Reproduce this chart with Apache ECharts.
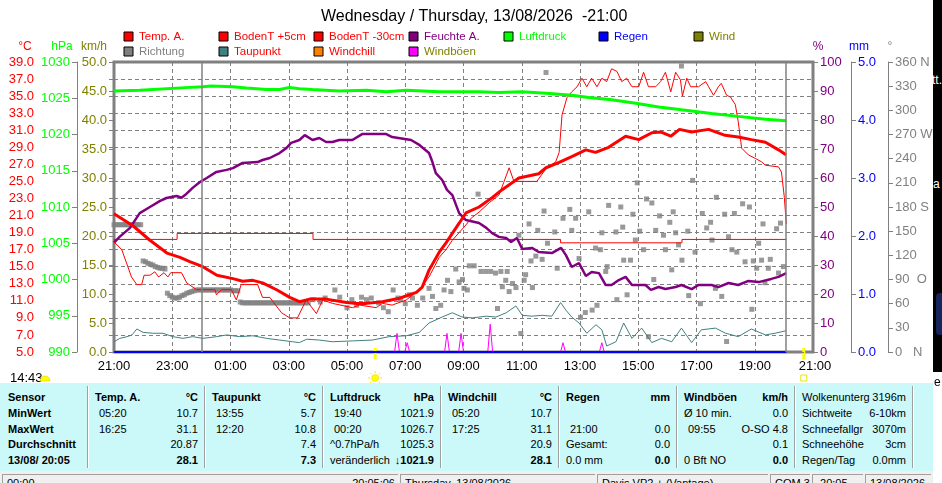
<!DOCTYPE html>
<html>
<head>
<meta charset="utf-8">
<script src="https://cdn.jsdelivr.net/npm/echarts@6.0.0/dist/echarts.min.js"></script>
<style>
  html, body { margin: 0; padding: 0; background: #fff; }
  #wrap { position: relative; width: 942px; height: 483px; overflow: hidden; background: #fff; font-family: 'Liberation Sans', Arial, sans-serif; }
  #chart { position: absolute; left: 0; top: 0; width: 942px; height: 483px; }
  #panel { position: absolute; left: 0; top: 383px; width: 933px; height: 88px; background: #cbf8f8; }
  #panel span { position: absolute; font-size: 11px; line-height: 14px; white-space: pre; color: #000; }
  .sep { position: absolute; top: 3px; width: 1px; height: 82px; background: #a0a0a0; border-right: 1px solid #fff; }
  #status { position: absolute; left: 0; top: 471px; width: 933px; height: 12px; background: #f0f0f0; }
  #status div { position: absolute; top: 3px; height: 20px; border-top: 1px solid #a0a0a0; border-left: 1px solid #a0a0a0; overflow: hidden; font-size: 11px; line-height: 13px; white-space: pre; }
  #strip { position: absolute; left: 933px; top: 0; width: 9px; height: 372px; background: #000; overflow: hidden; color: #fff; font-size: 12px; }
</style>
</head>
<body>
<div id="wrap">
  <div id="chart"></div>
  <div id="panel"></div>
  <div id="status"></div>
  <div id="strip">
    <div style="position:absolute;left:-1px;top:73px">tt.</div>
    <div style="position:absolute;left:0;top:177px">a</div>
    <div style="position:absolute;left:3px;top:293px;width:8px;height:42px;background:#16245c;border-radius:4px"></div>
  </div>
  <div style="position:absolute;left:934px;top:375px;font-size:12px">e</div>
</div>
<script>
const font = 'Liberation Sans';
const grey = '#808080';

const titleText = 'Wednesday / Thursday, 13/08/2026  -21:00';
const nowTime = '20:05';
const sunrise = '05:58';
const sunset = '20:41';
const dayLength = '14:43';

// Temp. A. (°C)
const tempA = [
  ['21:00', 21.2], ['21:39', 19.8], ['22:14', 18.1], ['22:49', 16.6], ['23:16', 16.1], ['23:36', 15.6],
  ['00:03', 15.0], ['00:32', 14.0], ['01:05', 13.6], ['01:25', 13.3], ['01:46', 13.4], ['02:06', 13.1],
  ['02:35', 12.3], ['03:02', 11.4], ['03:22', 10.9], ['03:43', 11.2], ['04:17', 11.2], ['04:59', 10.8],
  ['05:20', 10.7], ['05:40', 10.7], ['06:13', 10.9], ['06:48', 11.3], ['07:23', 12.0], ['07:35', 12.6],
  ['07:49', 14.6], ['08:10', 16.7], ['08:24', 17.8], ['08:51', 20.1], ['09:05', 21.3], ['09:32', 22.0],
  ['09:59', 23.1], ['10:19', 24.0], ['10:54', 25.4], ['11:35', 25.9], ['11:50', 26.6], ['12:16', 27.2],
  ['12:43', 27.9], ['13:12', 28.7], ['13:32', 28.4], ['13:59', 29.0], ['14:34', 30.3], ['15:01', 29.9],
  ['15:28', 30.7], ['15:46', 30.8], ['16:07', 30.3], ['16:25', 31.1], ['16:50', 30.8], ['17:25', 31.1],
  ['17:59', 30.4], ['18:26', 30.2], ['18:53', 29.9], ['19:22', 29.6], ['19:49', 28.7], ['20:05', 28.1]
];

// BodenT +5cm (°C)
const soil5 = [
  ['21:00', 17.9], ['21:16', 17.0], ['21:36', 13.8], ['21:47', 12.9], ['21:57', 12.9], ['22:02', 14.0],
  ['22:14', 14.0], ['22:24', 14.4], ['22:32', 13.8], ['22:43', 14.3], ['22:51', 13.8], ['22:57', 14.3],
  ['23:19', 14.3], ['23:30', 13.1], ['23:50', 12.3], ['00:07', 12.3], ['00:28', 12.3], ['00:31', 11.7],
  ['00:41', 12.3], ['01:02', 12.3], ['01:12', 11.1], ['01:22', 12.9], ['01:56', 12.9], ['02:06', 11.4],
  ['02:21', 11.4], ['02:45', 9.6], ['03:02', 9.0], ['03:18', 9.0], ['03:36', 11.1], ['03:57', 9.5],
  ['04:10', 11.1], ['04:30', 10.7], ['05:11', 10.2], ['05:26', 10.5], ['06:00', 10.2], ['06:13', 10.7],
  ['06:33', 10.5], ['07:02', 11.1], ['07:29', 12.3], ['07:49', 13.8], ['08:10', 16.1], ['08:24', 17.0],
  ['08:37', 18.1], ['08:51', 19.0], ['09:05', 19.9], ['09:16', 20.7], ['09:32', 21.4], ['09:53', 22.5],
  ['10:13', 23.4], ['10:23', 24.9], ['10:34', 26.6], ['10:44', 25.0], ['11:31', 25.0], ['11:50', 26.5],
  ['12:10', 27.3], ['12:17', 28.4], ['12:23', 32.8], ['12:33', 34.8], ['12:43', 35.5], ['12:54', 36.1],
  ['13:04', 37.1], ['13:14', 36.1], ['13:24', 37.1], ['13:35', 36.1], ['13:45', 37.1], ['13:55', 36.7],
  ['14:05', 38.2], ['14:16', 37.9], ['14:26', 36.7], ['14:36', 37.1], ['14:47', 36.1], ['15:01', 36.1],
  ['15:11', 37.8], ['15:21', 36.1], ['15:36', 36.1], ['15:46', 36.7], ['15:56', 37.8], ['16:07', 35.5],
  ['16:17', 37.8], ['16:27', 36.9], ['16:31', 35.0], ['16:40', 37.1], ['16:48', 36.1], ['17:04', 36.1],
  ['17:19', 36.7], ['17:25', 36.1], ['17:35', 35.1], ['17:45', 36.1], ['17:51', 36.5], ['18:02', 35.1],
  ['18:10', 34.9], ['18:20', 34.0], ['18:26', 32.0], ['18:33', 28.9], ['18:47', 28.1], ['19:01', 27.7],
  ['19:14', 27.3], ['19:22', 26.9], ['19:49', 26.7], ['19:55', 26.1], ['20:01', 23.1], ['20:05', 20.0]
];

// BodenT -30cm (°C), stepped
const soil30 = [['21:00', 18.2], ['23:10', 18.9], ['03:50', 18.2], ['12:20', 17.8], ['16:30', 18.2], ['20:05', 18.2]];

// Feuchte A. (%)
const humidity = [
  ['21:00', 37.7], ['21:12', 39.8], ['21:33', 42.8], ['21:53', 47.9], ['22:14', 50.0], ['22:35', 52.1],
  ['22:48', 53.1], ['23:09', 53.8], ['23:19', 53.2], ['23:29', 54.5], ['23:42', 56.6], ['23:57', 58.6],
  ['00:11', 60.0], ['00:31', 62.1], ['00:52', 62.8], ['01:05', 63.4], ['01:25', 65.2], ['01:56', 65.5],
  ['02:06', 66.2], ['02:21', 66.9], ['02:41', 68.6], ['02:55', 70.3], ['03:05', 72.1], ['03:22', 73.1],
  ['03:33', 74.8], ['03:49', 73.1], ['04:03', 73.8], ['04:17', 72.4], ['04:30', 72.4], ['04:44', 73.1],
  ['05:11', 73.1], ['05:32', 75.2], ['06:20', 75.2], ['06:33', 74.1], ['07:12', 73.1], ['07:29', 71.4],
  ['07:49', 68.6], ['07:56', 65.5], ['08:03', 61.7], ['08:16', 59.3], ['08:26', 55.9], ['08:37', 54.1],
  ['08:51', 47.9], ['09:05', 45.5], ['09:32', 44.5], ['09:47', 42.8], ['09:59', 41.0], ['10:13', 39.7],
  ['10:28', 39.3], ['10:38', 37.9], ['10:50', 39.3], ['11:01', 35.5], ['11:21', 35.9], ['11:35', 34.5],
  ['12:02', 34.1], ['12:21', 35.9], ['12:31', 33.4], ['12:43', 29.3], ['12:58', 30.7], ['13:12', 26.2],
  ['13:24', 27.6], ['13:39', 27.2], ['13:53', 23.1], ['14:05', 23.1], ['14:20', 24.8], ['14:34', 25.9],
  ['14:47', 23.1], ['15:15', 23.1], ['15:26', 21.4], ['15:42', 22.4], ['15:56', 21.7], ['16:17', 22.4],
  ['16:29', 23.1], ['16:50', 21.7], ['17:04', 23.1], ['17:31', 23.1], ['17:45', 22.4], ['18:06', 23.8],
  ['18:26', 23.1], ['18:47', 24.5], ['19:08', 24.1], ['19:34', 25.2], ['19:49', 25.9], ['20:05', 27.2]
];

// Luftdruck (hPa)
const pressure = [
  ['21:00', 1026.0], ['21:53', 1026.1], ['23:36', 1026.5], ['00:03', 1026.6], ['00:20', 1026.7], ['01:05', 1026.6],
  ['01:33', 1026.4], ['02:14', 1026.2], ['02:41', 1026.2], ['03:02', 1026.5], ['03:22', 1026.3], ['03:49', 1026.2],
  ['04:44', 1026.0], ['05:40', 1026.1], ['06:21', 1025.9], ['07:02', 1026.1], ['08:10', 1025.9], ['09:32', 1025.9],
  ['10:13', 1025.8], ['11:00', 1025.9], ['11:50', 1025.7], ['12:43', 1025.4], ['13:18', 1025.1], ['14:05', 1024.8],
  ['14:55', 1024.3], ['15:42', 1023.8], ['16:29', 1023.4], ['17:31', 1022.9], ['18:26', 1022.5], ['19:22', 1022.1],
  ['20:05', 1021.9]
];

// Taupunkt (°C)
const dewPoint = [
  ['21:00', 6.2], ['21:12', 6.6], ['21:27', 6.8], ['21:37', 7.0], ['21:47', 7.7], ['22:00', 7.3],
  ['22:20', 7.2], ['22:41', 7.2], ['23:01', 6.8], ['23:22', 6.6], ['23:42', 6.8], ['00:03', 6.6],
  ['00:32', 6.8], ['00:52', 7.0], ['01:19', 6.8], ['01:46', 6.9], ['02:14', 6.6], ['02:41', 6.4],
  ['03:08', 6.2], ['03:22', 6.1], ['03:37', 6.5], ['04:03', 6.4], ['04:30', 6.2], ['05:11', 6.3],
  ['05:52', 6.4], ['06:27', 6.8], ['07:02', 6.9], ['07:29', 7.3], ['07:49', 8.4], ['08:16', 9.1],
  ['08:37', 9.6], ['08:57', 9.1], ['09:18', 9.0], ['09:47', 9.2], ['10:07', 9.1], ['10:28', 9.6],
  ['10:48', 10.4], ['11:01', 9.3], ['11:21', 9.2], ['11:42', 9.3], ['12:02', 9.2], ['12:20', 10.8],
  ['12:31', 9.9], ['12:43', 9.1], ['12:58', 8.4], ['13:14', 7.2], ['13:33', 8.2], ['13:45', 7.6],
  ['13:55', 5.7], ['14:14', 6.2], ['14:30', 8.4], ['14:47', 6.6], ['15:07', 7.8], ['15:28', 6.1],
  ['15:48', 6.6], ['16:09', 6.2], ['16:29', 7.8], ['16:50', 6.1], ['17:10', 7.6], ['17:39', 7.8],
  ['18:00', 7.2], ['18:26', 6.8], ['18:53', 7.7], ['19:22', 7.0], ['19:42', 7.2], ['20:05', 7.5]
];

// Windböen (km/h)
const gusts = [
  ['21:00', 0], ['06:38', 0], ['06:43', 3.2], ['06:48', 0], ['06:59', 0], ['07:04', 1.6], ['07:09', 0],
  ['08:21', 0], ['08:26', 3.2], ['08:31', 0], ['08:50', 0], ['08:55', 3.2], ['09:00', 0],
  ['09:50', 0], ['09:55', 4.8], ['10:00', 0], ['12:20', 0], ['12:25', 1.6], ['12:30', 0],
  ['13:40', 0], ['13:45', 1.6], ['13:50', 0], ['20:05', 0]
];

// Regen (mm)
const rain = [['21:00', 0], ['20:05', 0]];

// Richtung (°): night values every 5 min from 21:00, then single readings
const dirNightStart = '21:00';
const dirNight = [
  158, 158, 158, 158, 158, 158, 158, 158, 158, 158, 158, 158,
  113, 112, 110, 109, 108, 106, 105, 104, 104, 103,
  73, 70, 68, 67, 67, 68, 70, 71, 73, 74, 75, 76,
  77, 77, 77, 77, 77, 77, 77, 77, 77, 77, 77, 77, 77, 77, 77, 76, 76, 76,
  62, 61, 61, 61, 61, 61, 61, 61, 61, 61, 61, 61, 61, 61, 61, 61, 61, 61, 61, 61, 61, 61, 61, 61, 61, 61, 61, 61, 61
];
const dirDay = [
  ['03:50', 65], ['04:05', 62], ['04:15', 67], ['04:35', 77], ['04:45', 68], ['05:00', 55], ['05:10', 65],
  ['05:20', 58], ['05:30', 68], ['05:40', 65], ['05:50', 67], ['06:05', 61], ['06:15', 55], ['06:25', 50],
  ['06:35', 77], ['06:45', 67], ['06:50', 65], ['07:00', 60], ['07:08', 71], ['07:15', 67], ['07:25', 58],
  ['07:36', 67], ['07:49', 79], ['07:56', 69], ['08:03', 54], ['08:13', 58], ['08:20', 77], ['08:27', 89],
  ['08:34', 75], ['08:44', 103], ['08:51', 87], ['08:58', 90], ['09:01', 79], ['09:08', 77], ['09:12', 107],
  ['09:22', 107], ['09:30', 196], ['09:36', 100], ['09:46', 100], ['09:56', 100], ['10:06', 98], ['10:10', 54],
  ['10:17', 100], ['10:20', 81], ['10:27', 89], ['10:30', 100], ['10:34', 75], ['10:41', 85], ['10:48', 80],
  ['10:54', 145], ['10:58', 23], ['11:05', 89], ['11:08', 96], ['11:15', 159], ['11:19', 113], ['11:22', 80],
  ['11:29', 119], ['11:33', 151], ['11:42', 115], ['11:46', 175], ['11:50', 347], ['11:53', 135], ['12:08', 149],
  ['12:13', 104], ['12:25', 166], ['12:39', 177], ['12:43', 151], ['12:51', 166], ['12:58', 116], ['13:01', 43],
  ['13:11', 49], ['13:18', 174], ['13:25', 52], ['13:32', 129], ['13:35', 58], ['13:42', 127], ['13:45', 148],
  ['13:53', 100], ['13:56', 106], ['13:59', 182], ['14:14', 149], ['14:16', 65], ['14:24', 180], ['14:28', 155],
  ['14:30', 114], ['14:37', 71], ['14:44', 114], ['14:49', 171], ['14:54', 139], ['14:58', 210], ['15:03', 150],
  ['15:11', 127], ['15:17', 190], ['15:21', 19], ['15:28', 185], ['15:32', 90], ['15:36', 151], ['15:44', 169],
  ['15:52', 145], ['15:56', 127], ['16:05', 161], ['16:09', 102], ['16:12', 174], ['16:17', 148], ['16:23', 133],
  ['16:29', 355], ['16:30', 114], ['16:42', 150], ['16:44', 70], ['16:52', 213], ['16:57', 124], ['17:08', 60],
  ['17:12', 172], ['17:21', 154], ['17:29', 161], ['17:32', 139], ['17:39', 79], ['17:41', 192], ['17:52', 69],
  ['17:58', 171], ['18:02', 13], ['18:06', 143], ['18:13', 127], ['18:18', 172], ['18:23', 124], ['18:35', 184],
  ['18:40', 112], ['18:49', 180], ['18:54', 53], ['18:57', 113], ['19:04', 104], ['19:08', 135], ['19:14', 114],
  ['19:17', 159], ['19:21', 86], ['19:28', 104], ['19:32', 115], ['19:45', 153], ['19:49', 98], ['19:53', 160],
  ['19:59', 106]
];

const compass = { 0: '0   N', 90: '90  O', 180: '180 S', 270: '270 W', 360: '360 N' };

const legendItems = [
  ['Temp. A.', '#ff0000', '#ff0000'], ['BodenT +5cm', '#ff0000', '#ff0000'], ['BodenT -30cm', '#ff0000', '#ff0000'],
  ['Feuchte A.', '#800080', '#800080'], ['Luftdruck', '#00ff00', '#00ff00'], ['Regen', '#0000ff', '#0000ff'],
  ['Wind', '#808000', '#808000'],
  ['Richtung', '#808080', '#808080'], ['Taupunkt', '#408080', '#ff0000'], ['Windchill', '#ff8000', '#ff0000'],
  ['Windböen', '#ff00ff', '#808000']
];

const panelCols = [
  [['Sensor', ''], ['MinWert', ''], ['MaxWert', ''], ['Durchschnitt', ''], ['13/08/ 20:05', '']],
  [['Temp. A.', '°C'], ['05:20', '10.7'], ['16:25', '31.1'], ['', '20.87'], ['', '28.1']],
  [['Taupunkt', '°C'], ['13:55', '5.7'], ['12:20', '10.8'], ['', '7.4'], ['', '7.3']],
  [['Luftdruck', 'hPa'], ['19:40', '1021.9'], ['00:20', '1026.7'], ['^0.7hPa/h', '1025.3'], ['veränderlich', '\u21931021.9']],
  [['Windchill', '°C'], ['05:20', '10.7'], ['17:25', '31.1'], ['', '20.9'], ['', '28.1']],
  [['Regen', 'mm'], ['', ''], ['21:00', '0.0'], ['Gesamt:', '0.0'], ['0.0 mm', '0.0']],
  [['Windböen', 'km/h'], ['Ø 10 min.', '0.0'], ['09:55', 'O-SO 4.8'], ['', '0.1'], ['0 Bft NO', '0.0']],
  [['Wolkenunterg', '3196m'], ['Sichtweite', '6-10km'], ['Schneefallgr', '3070m'], ['Schneehöhe', '3cm'], ['Regen/Tag', '0.0mm']]
];
const statusCells = [
  ['00:00', '20:05:06'], ['Thursday, 13/08/2026', ''], ['Davis VP2 + (Vantage)', ''],
  ['COM 3', ''], [' 20:05', ''], ['13/08/2026', '']
];

// hours after 21:00
function hrs(s) {
  const p = s.split(':');
  let v = +p[0] + p[1] / 60 - 21;
  if (v < 0) v += 24;
  return v;
}
const toXY = arr => arr.map(p => [hrs(p[0]), p[1]]);
const clock = v => {
  const h = (21 + Math.round(v)) % 24;
  return (h < 10 ? '0' : '') + h + ':00';
};

const dirData = dirNight.map((v, i) => [hrs(dirNightStart) + i * 5 / 60, v]).concat(toXY(dirDay));

const sideAxis = {
  type: 'value',
  axisLine: { show: true, lineStyle: { color: grey, width: 1 } },
  axisTick: { show: true, length: 5, lineStyle: { color: grey } },
  splitLine: { show: false }
};
const label = (color, fmt) => ({ color: color, fontSize: 13, fontFamily: font, margin: 7, formatter: fmt });
const lineSeries = {
  type: 'line',
  showSymbol: false,
  symbol: 'none',
  silent: true,
  animation: false
};

const graphics = [];
legendItems.forEach((it, i) => {
  const row = i < 7 ? 0 : 1;
  const col = i < 7 ? i : i - 7;
  const x = 124 + col * 95;
  const y = row ? 47 : 32;
  graphics.push({ type: 'rect', shape: { x: x, y: y, width: 9, height: 9 }, style: { fill: it[1], stroke: '#000', lineWidth: 1 } });
  graphics.push({ type: 'text', x: x + 15, y: y + 5, style: { text: it[0], fill: it[2], font: '11.5px ' + font, textVerticalAlign: 'middle', verticalAlign: 'middle' } });
});
[['°C', 25, '#ff0000'], ['hPa', 62, '#00ff00'], ['km/h', 94, '#808000'], ['%', 818, '#800080'], ['mm', 859, '#0000ff'], ['°', 890, grey]]
  .forEach(n => {
    graphics.push({ type: 'text', x: n[1], y: 47, style: { text: n[0], fill: n[2], font: '12px ' + font, textAlign: 'center', align: 'center', textVerticalAlign: 'middle', verticalAlign: 'middle' } });
  });
graphics.push({ type: 'text', x: 10, y: 378, style: { text: dayLength, fill: '#000', font: '13px ' + font, textVerticalAlign: 'middle', verticalAlign: 'middle' } });
graphics.push({ type: 'sector', shape: { cx: 45, cy: 381, r: 5, r0: 0, startAngle: Math.PI, endAngle: Math.PI * 2 }, style: { fill: '#ffff00', stroke: '#e0c000', lineWidth: 0.5 } });

const chart = echarts.init(document.getElementById('chart'), null, { renderer: 'canvas' });
const option = {
  animation: false,
  backgroundColor: '#fff',
  textStyle: { fontFamily: font },
  title: {
    text: titleText,
    left: 316,
    top: 4,
    textStyle: { color: '#000', fontSize: 16, fontWeight: 'normal', fontFamily: font }
  },
  grid: {
    left: 114,
    right: 129,
    top: 62,
    bottom: 131,
    show: true,
    borderColor: grey,
    borderWidth: 3,
    containLabel: false,
    outerBoundsMode: 'none'
  },
  xAxis: {
    type: 'value',
    min: 0,
    max: 24,
    interval: 2,
    axisLine: { show: false },
    axisTick: { show: false },
    axisLabel: { color: '#000', fontSize: 13, fontFamily: font, margin: 8, formatter: clock, showMaxLabel: false },
    splitLine: { show: true, lineStyle: { color: grey, type: [4, 3], width: 1 } }
  },
  yAxis: [
    { ...sideAxis, position: 'left', offset: 73, min: 5, max: 39, interval: 2,
      axisLabel: label('#ff0000', v => v.toFixed(1)),
      splitLine: { show: true, lineStyle: { color: grey, type: [4, 3], width: 1 } } },
    { ...sideAxis, position: 'left', offset: 37, min: 990, max: 1030, interval: 5,
      axisLabel: label('#00ff00', v => String(v)) },
    { ...sideAxis, position: 'left', offset: 0, min: 0, max: 50, interval: 5,
      axisLine: { show: false },
      axisLabel: label('#808000', v => v.toFixed(1)) },
    { ...sideAxis, position: 'right', offset: 0, min: 0, max: 100, interval: 10,
      axisLine: { show: false },
      axisLabel: label('#800080', v => String(v)) },
    { ...sideAxis, position: 'right', offset: 38, min: 0, max: 5, interval: 1,
      axisLabel: label('#0000ff', v => v.toFixed(1)) },
    { ...sideAxis, position: 'right', offset: 75, min: 0, max: 360, interval: 30,
      axisLabel: label(grey, v => compass[v] || String(v)) }
  ],
  graphic: graphics,
  series: [
    {
      name: 'Richtung',
      type: 'scatter',
      yAxisIndex: 5,
      symbol: 'rect',
      symbolSize: 5,
      silent: true,
      itemStyle: { color: grey },
      data: dirData,
      markLine: {
        silent: true,
        symbol: ['none', 'none'],
        label: { show: false },
        lineStyle: { color: grey, type: 'solid', width: 1.5 },
        data: [{ xAxis: hrs('00:00') }, { xAxis: hrs(nowTime) }]
      }
    },
    { name: 'BodenT -30cm', ...lineSeries, yAxisIndex: 0, step: 'end', lineStyle: { color: '#ff0000', width: 1 }, data: toXY(soil30) },
    { name: 'Taupunkt', ...lineSeries, yAxisIndex: 0, lineStyle: { color: '#408080', width: 1 }, data: toXY(dewPoint) },
    { name: 'Feuchte A.', ...lineSeries, yAxisIndex: 3, lineStyle: { color: '#800080', width: 2.5 }, data: toXY(humidity) },
    { name: 'BodenT +5cm', ...lineSeries, yAxisIndex: 0, lineStyle: { color: '#ff0000', width: 1 }, data: toXY(soil5) },
    { name: 'Temp. A.', ...lineSeries, yAxisIndex: 0, lineStyle: { color: '#ff0000', width: 3 }, data: toXY(tempA) },
    { name: 'Luftdruck', ...lineSeries, yAxisIndex: 1, lineStyle: { color: '#00ff00', width: 3 }, data: toXY(pressure) },
    { name: 'Windböen', ...lineSeries, yAxisIndex: 2, lineStyle: { color: '#ff00ff', width: 1 }, data: toXY(gusts) },
    { name: 'Regen', ...lineSeries, yAxisIndex: 4, lineStyle: { color: '#0000ff', width: 2 }, data: toXY(rain) }
  ]
};
chart.setOption(option);

// sunrise / sunset markers and the closing 21:00 label, placed through the x scale
const base = chart.convertToPixel({ yAxisIndex: 2 }, 0);
const xr = chart.convertToPixel({ xAxisIndex: 0 }, hrs(sunrise));
const xs = chart.convertToPixel({ xAxisIndex: 0 }, hrs(sunset));
const xEnd = chart.convertToPixel({ xAxisIndex: 0 }, 24);
const extra = [
  { type: 'line', shape: { x1: xr, y1: base - 4, x2: xr, y2: base + 7 }, style: { stroke: '#ffff00', lineWidth: 3 } },
  { type: 'line', shape: { x1: xs, y1: base - 4, x2: xs, y2: base + 7 }, style: { stroke: '#ffff00', lineWidth: 3 } },
  { type: 'circle', shape: { cx: xr, cy: 378, r: 3.5 }, style: { fill: '#ffff00', stroke: '#f0d000', lineWidth: 0.5 } },
  { type: 'rect', shape: { x: xs - 3, y: 375, width: 6, height: 6 }, style: { fill: 'none', stroke: '#e8e800', lineWidth: 1 } },
  { type: 'text', x: xEnd + 2, y: base + 8, z: 10, style: { text: clock(24), fill: '#000', font: '13px ' + font, textAlign: 'center', align: 'center', textVerticalAlign: 'top', verticalAlign: 'top' } }
];
for (let k = 0; k < 8; k++) {
  const a = k * Math.PI / 4;
  extra.push({ type: 'line', shape: { x1: xr + Math.cos(a) * 5, y1: 378 + Math.sin(a) * 5, x2: xr + Math.cos(a) * 7, y2: 378 + Math.sin(a) * 7 }, style: { stroke: '#ffe000', lineWidth: 1 } });
}
chart.setOption({ graphic: graphics.concat(extra) });

// data panel under the chart
const panelLeft = [0, 88, 205, 323, 441, 559, 677, 795];
const panelRight = [88, 205, 323, 441, 559, 677, 795, 913];
const rowTop = [7, 23, 39, 54, 70];
const panel = document.getElementById('panel');
let html = '';
panelCols.forEach((col, c) => {
  col.forEach((cell, r) => {
    const boldLeft = c === 0 || (r === 0 && c < 7);
    const boldRight = c < 7 && (r === 0 || r === 4);
    const indent = c === 0 ? 8 : (/^\d\d:\d\d$/.test(cell[0]) ? 11 : 7);
    if (cell[0]) html += '<span style="left:' + (panelLeft[c] + indent) + 'px;top:' + rowTop[r] + 'px;font-weight:' + (boldLeft ? 'bold' : 'normal') + '">' + cell[0] + '</span>';
    if (cell[1]) html += '<span style="right:' + (933 - panelRight[c] + 7) + 'px;top:' + rowTop[r] + 'px;font-weight:' + (boldRight ? 'bold' : 'normal') + '">' + cell[1] + '</span>';
  });
  html += '<div class="sep" style="left:' + (panelRight[c] - 1) + 'px"></div>';
});
panel.innerHTML = html;

const statusBox = [[2, 397], [400, 594], [597, 767], [770, 809], [812, 862], [865, 930]];
let sHtml = '';
statusCells.forEach((s, i) => {
  const b = statusBox[i];
  sHtml += '<div style="left:' + b[0] + 'px;width:' + (b[1] - b[0]) + 'px">' +
    '<span style="position:absolute;left:4px;top:2px">' + s[0] + '</span>' +
    (s[1] ? '<span style="position:absolute;right:3px;top:2px">' + s[1] + '</span>' : '') + '</div>';
});
document.getElementById('status').innerHTML = sHtml;
</script>
</body>
</html>
